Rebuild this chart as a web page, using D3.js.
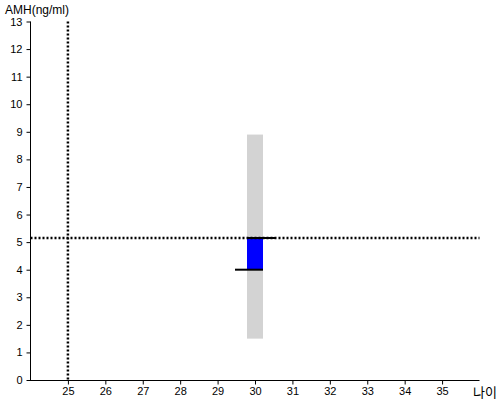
<!DOCTYPE html>
<html><head><meta charset="utf-8">
<script src="https://cdn.jsdelivr.net/npm/d3@7"></script>
<style>
html,body{margin:0;padding:0;background:#fff;}
svg{display:block;font-family:"Liberation Sans",Arial,sans-serif;}
</style></head>
<body>
<svg id="chart" width="500" height="400"></svg>
<script>
// data
const xTicks = [25,26,27,28,29,30,31,32,33,34,35];
const yTicks = [0,1,2,3,4,5,6,7,8,9,10,11,12,13];
const xDomain = [24, 36];
const yDomain = [0, 13];
const ages = [30];
const rangeLow = [1.5];
const rangeHigh = [8.9];
const valueLow = [4.0];
const valueHigh = [5.15];
const refAge = 25;
const refAmh = 5.15;
const yLabel = "AMH(ng/ml)";
const xLabel = "나이";

const svg = d3.select("#chart");
const x = d3.scaleLinear().domain(xDomain).range([30.5, 479.5]);
const y = d3.scaleLinear().domain(yDomain).range([380, 21.5]);

const barW = 16;

// gray range bars
svg.selectAll("rect.range").data(ages).enter().append("rect")
  .attr("x", d => x(d) - barW/2)
  .attr("y", (d,i) => y(rangeHigh[i]))
  .attr("width", barW)
  .attr("height", (d,i) => y(rangeLow[i]) - y(rangeHigh[i]))
  .attr("fill", "#d3d3d3");

// blue value bars
svg.selectAll("rect.val").data(ages).enter().append("rect")
  .attr("x", d => x(d) - barW/2)
  .attr("y", (d,i) => y(valueHigh[i]))
  .attr("width", barW)
  .attr("height", (d,i) => y(valueLow[i]) - y(valueHigh[i]))
  .attr("fill", "#0000ff");

// axes
const yAxis = d3.axisLeft(y).tickValues(yTicks).tickSize(4).tickPadding(4);
const xAxis = d3.axisBottom(x).tickValues(xTicks).tickSize(4).tickPadding(3);

const gy = svg.append("g").attr("transform", "translate(30.5,0)").call(yAxis);
gy.select(".domain").attr("d", `M0,${y(13)}V${y(0)}`);
gy.selectAll("text").attr("font-size", 11).attr("font-family", "Liberation Sans, Arial, sans-serif").attr("fill", "#000");

const gx = svg.append("g").attr("transform", "translate(0,380.5)").call(xAxis);
gx.select(".domain").attr("d", `M30,0H${x(36)}`);
gx.selectAll("text").attr("font-size", 11).attr("font-family", "Liberation Sans, Arial, sans-serif").attr("fill", "#000");

// reference dotted lines
svg.append("line")
  .attr("x1", x(refAge)).attr("x2", x(refAge))
  .attr("y1", y(13)).attr("y2", y(0))
  .attr("stroke", "#000").attr("stroke-width", 2.5).attr("stroke-dasharray", "2,2");
svg.append("line")
  .attr("x1", x(xDomain[0])).attr("x2", x(xDomain[1]))
  .attr("y1", y(refAmh)).attr("y2", y(refAmh))
  .attr("stroke", "#000").attr("stroke-width", 2.5).attr("stroke-dasharray", "2,2");

// black markers at value bounds
svg.selectAll("line.hi").data(ages).enter().append("line")
  .attr("x1", d => x(d) - barW/2).attr("x2", d => x(d) + barW/2 + 12)
  .attr("y1", (d,i) => y(valueHigh[i])).attr("y2", (d,i) => y(valueHigh[i]))
  .attr("stroke", "#000").attr("stroke-width", 2);
svg.selectAll("line.lo").data(ages).enter().append("line")
  .attr("x1", d => x(d) - barW/2 - 12).attr("x2", d => x(d) + barW/2)
  .attr("y1", (d,i) => y(valueLow[i])).attr("y2", (d,i) => y(valueLow[i]))
  .attr("stroke", "#000").attr("stroke-width", 2);

// labels
svg.append("text").attr("x", 5).attr("y", 14)
  .attr("font-size", 12).attr("fill", "#000").text(yLabel);
svg.append("text").attr("x", 473).attr("y", 397)
  .attr("font-size", 13).attr("font-family", "Noto Sans CJK KR, sans-serif").attr("fill", "#000").text(xLabel);
</script>
</body></html>
